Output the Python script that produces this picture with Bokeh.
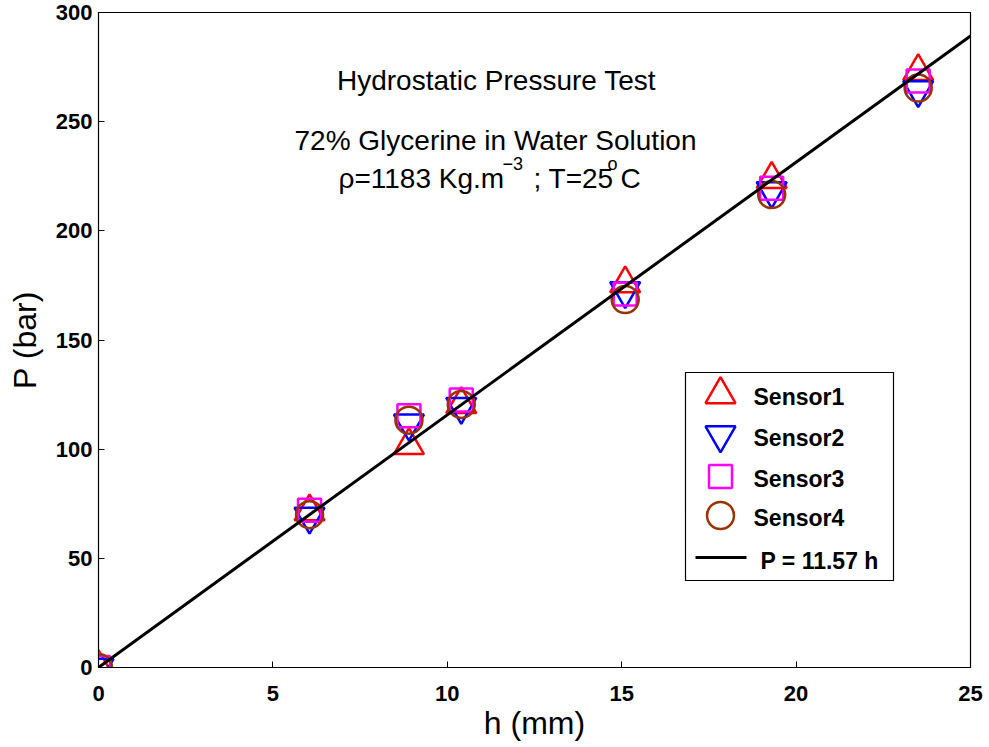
from bokeh.plotting import figure
from bokeh.models import FixedTicker, Label, Range1d
from bokeh.core.properties import value
from bokeh.embed import file_html
from bokeh.resources import INLINE

# ---- data ----
h_mm = [0, 6.05, 8.9, 10.4, 15.1, 19.3, 23.5]
sensor1 = [0, 71.4, 101.7, 120.5, 175.8, 223.6, 273.0]
sensor2 = [0, 69.2, 111.9, 119.5, 172.5, 218.3, 264.6]
sensor3 = [0, 72.0, 115.3, 122.5, 171.1, 219.5, 268.6]
sensor4 = [0, 70.0, 113.3, 120.5, 168.5, 216.6, 265.4]
fit_slope = 11.57
fit_h = [0, 25]
fit_p = [fit_slope * v for v in fit_h]
x_ticks = [0, 5, 10, 15, 20, 25]
y_ticks = [0, 50, 100, 150, 200, 250, 300]
legend_labels = ["Sensor1", "Sensor2", "Sensor3", "Sensor4", "P = 11.57 h"]

FONT = "Liberation Sans"
W, H = 989, 747
ML, MR, MT, MB = 98, 19, 12, 80
XMAX, YMAX = 25, 300

p = figure(width=W, height=H, x_range=Range1d(0, XMAX), y_range=Range1d(0, YMAX),
           output_backend="svg", toolbar_location=None,
           min_border_left=ML, min_border_right=MR, min_border_top=MT, min_border_bottom=MB)
p.background_fill_color = "white"
p.border_fill_color = "white"
p.outline_line_color = "black"
p.outline_line_width = 1.2
p.outline_line_alpha = 1
p.xgrid.visible = False
p.ygrid.visible = False

p.xaxis.ticker = FixedTicker(ticks=x_ticks)
p.yaxis.ticker = FixedTicker(ticks=y_ticks)
for ax in (p.xaxis[0], p.yaxis[0]):
    ax.major_tick_in = 6
    ax.major_tick_out = 0
    ax.minor_tick_in = 0
    ax.minor_tick_out = 0
    ax.major_tick_line_color = "black"
    ax.axis_line_color = "black"
    ax.major_label_text_font = FONT
    ax.major_label_text_font_style = "bold"
    ax.major_label_text_font_size = "22px"
    ax.major_label_text_color = "black"
    ax.axis_label_text_font = FONT
    ax.axis_label_text_font_style = "normal"
    ax.axis_label_text_font_size = "32px"
    ax.axis_label_text_color = "black"
p.xaxis.axis_label = "h (mm)"
p.yaxis.axis_label = "P (bar)"
p.xaxis.major_label_standoff = 18
p.xaxis.axis_label_standoff = 1
p.yaxis.major_label_standoff = 6
p.yaxis.axis_label_standoff = 10

# ---- data marks ----
p.scatter(h_mm, sensor1, marker="triangle", size=30, line_color="#ff0000",
          fill_color=None, line_width=2.5)
p.scatter(h_mm, sensor2, marker="inverted_triangle", size=30, line_color="#0000ff",
          fill_color=None, line_width=2.5)
p.scatter(h_mm, sensor3, marker="square", size=23, line_color="#ff00ff",
          fill_color=None, line_width=2.5)
p.scatter(h_mm, sensor4, marker="circle", size=27, line_color="#993300",
          fill_color=None, line_width=2.5)
p.line(fit_h, fit_p, line_color="black", line_width=3)

# ---- helpers: reference-picture pixel -> data (annotation layout only) ----
RX0, RX1, RY0, RY1 = 98, 970, 12, 667


def dx(px):
    return (px - RX0) * XMAX / (RX1 - RX0)


def dy(py):
    return (RY1 - py) * YMAX / (RY1 - RY0)


# ---- legend (drawn by hand so markers keep their plot size) ----
p.quad(left=[dx(685)], right=[dx(893)], top=[dy(372)], bottom=[dy(580)],
       fill_color="white", line_color="black", line_width=1.2)
gx = dx(720)
p.scatter([gx], [dy(394)], marker="triangle", size=30, line_color="#ff0000",
          fill_color=None, line_width=2.5)
p.scatter([gx], [dy(434.5)], marker="inverted_triangle", size=30, line_color="#0000ff",
          fill_color=None, line_width=2.5)
p.scatter([gx], [dy(476)], marker="square", size=23, line_color="#ff00ff",
          fill_color=None, line_width=2.5)
p.scatter([gx], [dy(515)], marker="circle", size=27, line_color="#993300",
          fill_color=None, line_width=2.5)
p.line([dx(695), dx(746)], [dy(557), dy(557)], line_color="black", line_width=3)
tx = [dx(753), dx(753), dx(753), dx(753), dx(760)]
ty = [dy(396.5), dy(437), dy(478), dy(517), dy(560)]
p.text(tx, ty, text=legend_labels, text_font=value(FONT), text_font_style=value("bold"),
       text_font_size=value("23px"), text_baseline=value("middle"), text_align=value("left"),
       text_color="black")


# ---- annotation text ----
def lab(x, y, t, size="28px", align="left"):
    p.add_layout(Label(x=x, y=y, text=t, text_font=FONT, text_font_size=size,
                       text_align=align, text_baseline="alphabetic", text_color="black"))


lab(dx(496), dy(80), "Hydrostatic Pressure Test", align="center")
lab(dx(495), dy(140), "72% Glycerine in Water Solution", align="center")
lab(dx(338), dy(178), "ρ=1183 Kg.m")
lab(dx(502), dy(163), "−3", size="18px")
lab(dx(533), dy(178), "; T=25")
lab(dx(607), dy(163), "o", size="18px")
lab(dx(620), dy(178), "C")

open("out.html", "w").write(file_html(p, INLINE))
